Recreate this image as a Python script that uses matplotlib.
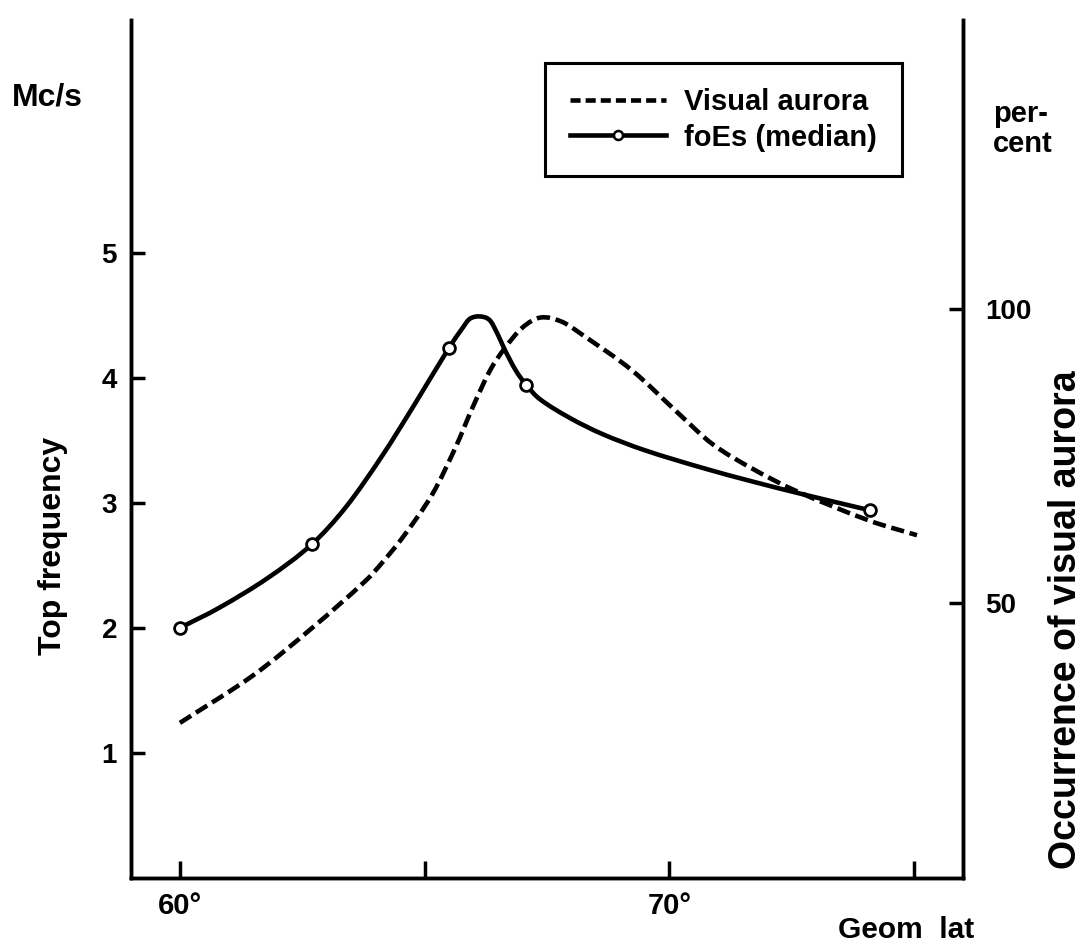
import matplotlib.pyplot as plt
import numpy as np
from matplotlib.path import Path
from matplotlib.patches import PathPatch

plt.rcParams['font.family'] = ['Liberation Sans', 'DejaVu Sans']
plt.rcParams['font.weight'] = 'bold'

# foEs (median) curve, top frequency in Mc/s
foes_lat = [60.0, 60.8, 61.8, 62.7, 63.4, 64.14, 64.8, 65.5, 65.78, 65.92,
            66.12, 66.33, 66.49, 66.63, 66.86, 67.08, 67.35, 67.96, 68.63, 69.5,
            70.67, 71.7, 72.71, 74.1]
foes_mcs = [2.00, 2.16, 2.40, 2.67, 2.97, 3.38, 3.79, 4.24, 4.40, 4.47,
            4.49, 4.46, 4.35, 4.23, 4.06, 3.94, 3.83, 3.68, 3.55, 3.42,
            3.28, 3.17, 3.07, 2.94]

# measured stations (open circles)
station_lat = [60.0, 62.7, 65.5, 67.08, 74.1]
station_mcs = [2.00, 2.67, 4.24, 3.94, 2.94]

# occurrence of visual aurora, percent
aurora_lat = [60.0, 61.5, 62.71, 63.8, 64.14, 64.55, 65.16, 65.63, 65.98, 66.33,
              66.63, 67.0, 67.37, 67.8, 68.2, 69.24, 70.2, 70.88, 71.7, 72.57,
              74.08, 75.06]
aurora_pct = [29.6, 37.7, 45.8, 53.8, 56.9, 61.1, 68.5, 76.4, 83.2, 89.4,
              93.2, 96.8, 98.5, 97.8, 95.7, 89.5, 82.1, 77.0, 72.8, 69.1,
              64.0, 61.5]


def smooth_path(xs, ys):
    # cubic bezier through the read points (hand drawn look of the original)
    x = np.asarray(xs, float)
    y = np.asarray(ys, float)
    m = np.empty(len(x))
    m[1:-1] = (y[2:] - y[:-2]) / (x[2:] - x[:-2])
    m[0] = (y[1] - y[0]) / (x[1] - x[0])
    m[-1] = (y[-1] - y[-2]) / (x[-1] - x[-2])
    verts = [(x[0], y[0])]
    codes = [Path.MOVETO]
    for i in range(len(x) - 1):
        dx = x[i + 1] - x[i]
        verts += [(x[i] + dx / 3, y[i] + m[i] * dx / 3),
                  (x[i + 1] - dx / 3, y[i + 1] - m[i + 1] * dx / 3),
                  (x[i + 1], y[i + 1])]
        codes += [Path.CURVE4] * 3
    return Path(verts, codes)


fig = plt.figure(figsize=(10.86, 9.43), dpi=100)
ax = fig.add_axes([0.1206, 0.0689, 0.7661, 0.9099])
ax2 = ax.twinx()

ax.set_xlim(59.0, 76.0)
ax.set_ylim(0, 6.86)
ax2.set_ylim(3.23, 3.23 + 21.26 * 6.86)

lw = 3.3

# curves
ax2.add_patch(PathPatch(smooth_path(aurora_lat, aurora_pct), fill=False,
                        edgecolor='black', lw=lw, linestyle=(0, (2.9, 1.25)),
                        capstyle='butt'))
ax.add_patch(PathPatch(smooth_path(foes_lat, foes_mcs), fill=False,
                       edgecolor='black', lw=lw, capstyle='round',
                       joinstyle='round'))
ax.plot(station_lat, station_mcs, linestyle='none', marker='o', ms=8.5,
        mfc='white', mec='black', mew=2.0, zorder=5)

# spines
for a in (ax, ax2):
    a.spines['top'].set_visible(False)
    for s in ('left', 'bottom', 'right'):
        a.spines[s].set_linewidth(2.5)
ax.set_zorder(ax2.get_zorder() + 1)
ax.patch.set_visible(False)

ax.set_yticks([1, 2, 3, 4, 5])
ax.set_yticklabels(['1', '2', '3', '4', '5'])
ax.set_xticks([60, 65, 70, 75])
ax.set_xticklabels(['60°', '', '70°', ''])
ax.tick_params(axis='y', direction='in', length=10, width=2.5, labelsize=20, pad=10)
ax.tick_params(axis='x', direction='in', length=12, width=2.5, labelsize=21, pad=10)

ax2.set_yticks([50, 100])
ax2.set_yticklabels(['50', '100'])
ax2.tick_params(axis='y', direction='in', length=10, width=2.5, labelsize=20, pad=16)

# legend
h1, = ax.plot([], [], color='black', lw=lw, linestyle=(0, (2.2, 1.1)))
h2, = ax.plot([], [], color='black', lw=lw, marker='o', ms=6.5, mfc='white',
              mec='black', mew=1.8)
leg = ax.legend([h1, h2], ['Visual aurora', 'foEs (median)'],
                loc='upper left', bbox_to_anchor=(545 / 1086, 1 - 63 / 943),
                bbox_transform=fig.transFigure, frameon=True,
                prop={'size': 21, 'weight': 'bold'},
                fancybox=False, framealpha=1, handlelength=3.3,
                handletextpad=0.62, labelspacing=0.27, borderpad=0.85,
                borderaxespad=0, numpoints=1)
leg.get_frame().set_edgecolor('black')
leg.get_frame().set_linewidth(2.2)

# axis texts
fig.text(12 / 1086, 1 - 98 / 943, 'Mc/s', fontsize=23, ha='left', va='center')
fig.text(53 / 1086, 1 - 546 / 943, 'Top frequency', fontsize=23, rotation=90,
         ha='center', va='center')
fig.text(993 / 1086, 1 - 129 / 943, 'per-\ncent', fontsize=21, ha='left',
         va='center', linespacing=1.05)
fig.text(1066 / 1086, 1 - 620 / 943, 'Occurrence of visual aurora', fontsize=27,
         rotation=90, ha='center', va='center')
fig.text(838 / 1086, 1 - 930 / 943, 'Geom  lat', fontsize=21.5, ha='left', va='center')

fig.savefig('out.png', dpi=100)
